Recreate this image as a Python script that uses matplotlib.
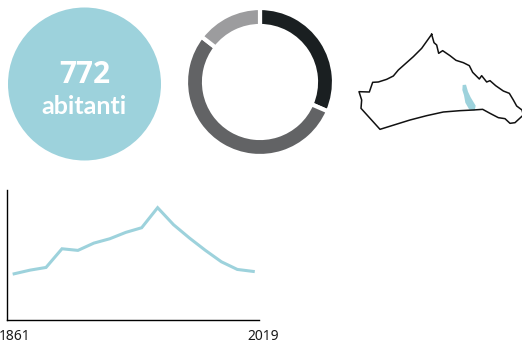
import matplotlib
matplotlib.use('Agg')
import matplotlib.pyplot as plt
from matplotlib.patches import Circle, Polygon

W, H = 522, 344
BLUE = '#9dd2dc'

population_label = '772'
population_unit = 'abitanti'

# share of residents by age band
share_values = [31.5, 54, 14.5]
share_colors = ['#1a1f21', '#626365', '#9c9c9e']

# census years, evenly spaced on the x axis
years = [1861, 1871, 1881, 1901, 1911, 1921, 1931, 1936,
         1951, 1961, 1971, 1981, 1991, 2001, 2011, 2019]
residents = [734, 793, 836, 1136, 1110, 1227, 1297, 1399,
             1474, 1796, 1522, 1308, 1110, 927, 804, 772]

# municipal boundary and lake outline
border_x = [245, 252, 260, 266, 278, 300, 318, 340, 358, 368, 388, 395, 410, 420, 437,
            460, 478, 490, 500, 516, 520, 495, 480, 465, 445, 420, 398, 370, 330, 280, 230,
            180, 90, 33, 35, 27, 58, 68, 85, 110, 130, 145, 190, 215, 245]
border_y = [43, 68, 75, 100, 92, 107, 121, 128, 137, 157, 177, 167, 186, 182, 197,
            213, 220, 240, 258, 270, 285, 308, 310, 296, 293, 280, 268, 270, 272, 276, 287,
            300, 328, 265, 240, 215, 216, 187, 186, 178, 168, 150, 110, 85, 43]
lake_x = [338, 348, 354, 362, 377, 374, 358, 346, 342, 337]
lake_y = [195, 194, 215, 232, 257, 272, 269, 248, 226, 210]

plt.rcParams['font.family'] = ['Noto Sans', 'DejaVu Sans']


def axes_px(fig, left, top, right, bottom):
    # axes from pixel edges, y counted from the top
    return fig.add_axes([left / W, 1 - bottom / H, (right - left) / W, (bottom - top) / H])


fig = plt.figure(figsize=(W / 100, H / 100), dpi=100)

# big number disc
ax = axes_px(fig, 8, 7.5, 161, 160.5)
ax.set_xlim(-1, 1)
ax.set_ylim(-1, 1)
ax.axis('off')
ax.add_patch(Circle((0, 0), 1, color=BLUE, lw=0, clip_on=False))
ax.text(0, 0.12, population_label, color='white', fontsize=21.5, fontweight='bold',
        family='Open Sans', ha='center', va='center')
ax.text(0, -0.29, population_unit, color='white', fontsize=18, fontweight='bold',
        family='Lato', ha='center', va='center')

# donut, white wedge edges make the gaps
ax = axes_px(fig, 185.5, 7.5, 334.5, 156.5)
ax.pie(share_values, colors=share_colors, startangle=90, counterclock=False, radius=74 / 74.5,
       wedgeprops=dict(width=18 / 74.5, edgecolor='white', linewidth=3))
ax.set_xlim(-1, 1)
ax.set_ylim(-1, 1)

# map
ax = axes_px(fig, 350, 20, 522, 140)
ax.set_xlim(0, 516)
ax.set_ylim(360, 0)
ax.axis('off')
ax.add_patch(Polygon(list(zip(lake_x, lake_y)), closed=True, color=BLUE, lw=0))
ax.plot(border_x, border_y, color='#111111', lw=1.1, solid_joinstyle='round', clip_on=False)

# population trend
ax = axes_px(fig, 6.5, 190, 259, 319.5)
ax.plot(range(len(years)), residents, color=BLUE, lw=2.2, solid_joinstyle='miter')
ax.set_xlim(-0.48, 15.36)
ax.set_ylim(0, 2080)
ax.spines[['top', 'right']].set_visible(False)
ax.spines[['left', 'bottom']].set_linewidth(1)
ax.set_xticks([])
ax.set_yticks([])
# end labels sit just outside the axis span
ax.text(0.03, -0.128, str(years[0]), transform=ax.get_xaxis_transform(), fontsize=10,
        color='#1a1a1a', ha='center', va='center', clip_on=False)
ax.text(15.6, -0.128, str(years[-1]), transform=ax.get_xaxis_transform(), fontsize=10,
        color='#1a1a1a', ha='center', va='center', clip_on=False)

fig.savefig('out.png', dpi=100)
